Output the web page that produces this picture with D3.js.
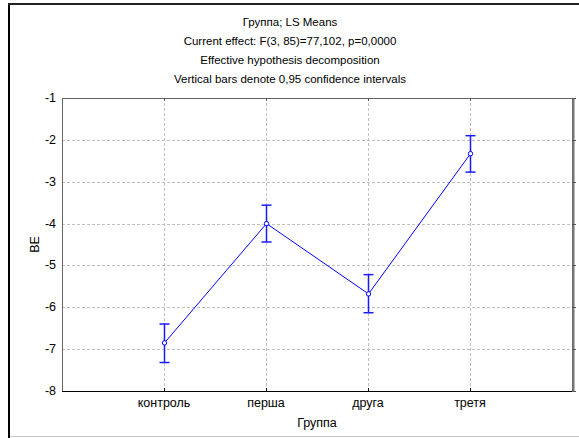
<!DOCTYPE html>
<html>
<head>
<meta charset="utf-8">
<script src="https://cdn.jsdelivr.net/npm/d3@7"></script>
<style>
  body { margin: 0; background: #fff; }
  text { font-family: "Liberation Sans", Arial, sans-serif; font-size: 11.5px; fill: #000; }
  .big { font-size: 12.5px; }
</style>
</head>
<body>
<div id="chart"></div>
<script>
const groups = ['контроль', 'перша', 'друга', 'третя']
const means = [-6.85, -4.0, -5.68, -2.33]
const ciLow = [-7.32, -4.44, -6.13, -2.77]
const ciHigh = [-6.40, -3.56, -5.22, -1.90]
const yTicks = [-1, -2, -3, -4, -5, -6, -7, -8]
const titleLines = [
  'Группа; LS Means',
  'Current effect: F(3, 85)=77,102, p=0,0000',
  'Effective hypothesis decomposition',
  'Vertical bars denote 0,95 confidence intervals'
]

const width = 579
const height = 438
const margin = { top: 98, right: 7, bottom: 47, left: 62 }

const svg = d3.select('#chart')
  .append('svg')
  .attr('width', width)
  .attr('height', height)

// outer frame
svg.append('line').attr('x1', 9).attr('x2', 9).attr('y1', 3).attr('y2', 438)
  .attr('stroke', '#000').attr('stroke-width', 2)
svg.append('line').attr('x1', 8).attr('x2', 579).attr('y1', 4).attr('y2', 4)
  .attr('stroke', '#222').attr('stroke-width', 2)
svg.append('line').attr('x1', 10).attr('x2', 579).attr('y1', 436.5).attr('y2', 436.5)
  .attr('stroke', '#c8c8c8').attr('stroke-width', 1)

const x = d3.scaleLinear()
  .domain([0, groups.length + 1])
  .range([margin.left, width - margin.right])

const y = d3.scaleLinear()
  .domain([-8, -1])
  .range([height - margin.bottom, margin.top])

// title
svg.selectAll('.title')
  .data(titleLines)
  .enter().append('text')
  .attr('class', 'title')
  .attr('x', 290)
  .attr('y', (d, i) => 26 + i * 19)
  .attr('text-anchor', 'middle')
  .text(d => d)

// grid
svg.selectAll('.hgrid')
  .data(yTicks.slice(1, -1))
  .enter().append('line')
  .attr('x1', x(0)).attr('x2', x(groups.length + 1))
  .attr('y1', d => Math.round(y(d)) + 0.5).attr('y2', d => Math.round(y(d)) + 0.5)
  .attr('stroke', '#c0c0c0')
  .attr('stroke-dasharray', '3 2')

svg.selectAll('.vgrid')
  .data(groups)
  .enter().append('line')
  .attr('x1', (d, i) => Math.round(x(i + 1)) + 0.5).attr('x2', (d, i) => Math.round(x(i + 1)) + 0.5)
  .attr('y1', y(-1)).attr('y2', y(-8))
  .attr('stroke', '#c0c0c0')
  .attr('stroke-dasharray', '3 2')

// frame of plot
svg.append('rect')
  .attr('x', x(0) + 0.5).attr('y', y(-1) + 0.5)
  .attr('width', x(groups.length + 1) - x(0)).attr('height', y(-8) - y(-1))
  .attr('fill', 'none')
  .attr('stroke', '#666')
svg.append('line')
  .attr('x1', x(0)).attr('x2', x(groups.length + 1) + 1)
  .attr('y1', y(-8) + 0.5).attr('y2', y(-8) + 0.5)
  .attr('stroke', '#000')
svg.append('line')
  .attr('x1', x(groups.length + 1) + 1.5).attr('x2', x(groups.length + 1) + 1.5)
  .attr('y1', y(-1)).attr('y2', y(-8) + 1)
  .attr('stroke', '#777').attr('stroke-width', 2)

// ticks on right, top and bottom
svg.selectAll('.rtick')
  .data(yTicks)
  .enter().append('line')
  .attr('x1', x(groups.length + 1)).attr('x2', x(groups.length + 1) + 4)
  .attr('y1', d => Math.round(y(d)) + 0.5).attr('y2', d => Math.round(y(d)) + 0.5)
  .attr('stroke', '#555')
svg.selectAll('.btick')
  .data(groups)
  .enter().append('line')
  .attr('x1', (d, i) => Math.round(x(i + 1)) + 0.5).attr('x2', (d, i) => Math.round(x(i + 1)) + 0.5)
  .attr('y1', y(-8)).attr('y2', y(-8) - 3)
  .attr('stroke', '#000')
svg.selectAll('.ttick')
  .data(groups)
  .enter().append('line')
  .attr('x1', (d, i) => Math.round(x(i + 1)) + 0.5).attr('x2', (d, i) => Math.round(x(i + 1)) + 0.5)
  .attr('y1', y(-1)).attr('y2', y(-1) + 3)
  .attr('stroke', '#555')

// tick labels
svg.selectAll('.ylab')
  .data(yTicks)
  .enter().append('text')
  .attr('class', 'big')
  .attr('x', 56)
  .attr('y', d => y(d) + 4)
  .attr('text-anchor', 'end')
  .text(d => d)

svg.selectAll('.xlab')
  .data(groups)
  .enter().append('text')
  .attr('class', 'big')
  .attr('x', (d, i) => x(i + 1))
  .attr('y', 407)
  .attr('text-anchor', 'middle')
  .text(d => d)

svg.append('text')
  .attr('class', 'big')
  .attr('x', x((groups.length + 1) / 2))
  .attr('y', 427)
  .attr('text-anchor', 'middle')
  .text('Группа')

svg.append('text')
  .attr('class', 'big')
  .attr('transform', `translate(39, ${y(-4.5)}) rotate(-90)`)
  .attr('text-anchor', 'middle')
  .text('BE')

// error bars
const blue = '#1a1aff'
groups.forEach((g, i) => {
  const cx = Math.round(x(i + 1)) + 0.5
  svg.append('line')
    .attr('x1', cx).attr('x2', cx)
    .attr('y1', y(ciHigh[i])).attr('y2', y(ciLow[i]))
    .attr('stroke', blue).attr('stroke-width', 1.5)
  ;[ciHigh[i], ciLow[i]].forEach(v => {
    svg.append('line')
      .attr('x1', cx - 5).attr('x2', cx + 5)
      .attr('y1', y(v)).attr('y2', y(v))
      .attr('stroke', blue).attr('stroke-width', 1.5)
  })
})

// mean line
const line = d3.line()
  .x((d, i) => Math.round(x(i + 1)) + 0.5)
  .y(d => y(d))

svg.append('path')
  .attr('d', line(means))
  .attr('fill', 'none')
  .attr('stroke', '#0000ff')
  .attr('stroke-width', 1)

svg.selectAll('.pt')
  .data(means)
  .enter().append('circle')
  .attr('cx', (d, i) => Math.round(x(i + 1)) + 0.5)
  .attr('cy', d => y(d))
  .attr('r', 2.2)
  .attr('fill', '#fff')
  .attr('stroke', '#0000ff')
  .attr('stroke-width', 1)
</script>
</body>
</html>
